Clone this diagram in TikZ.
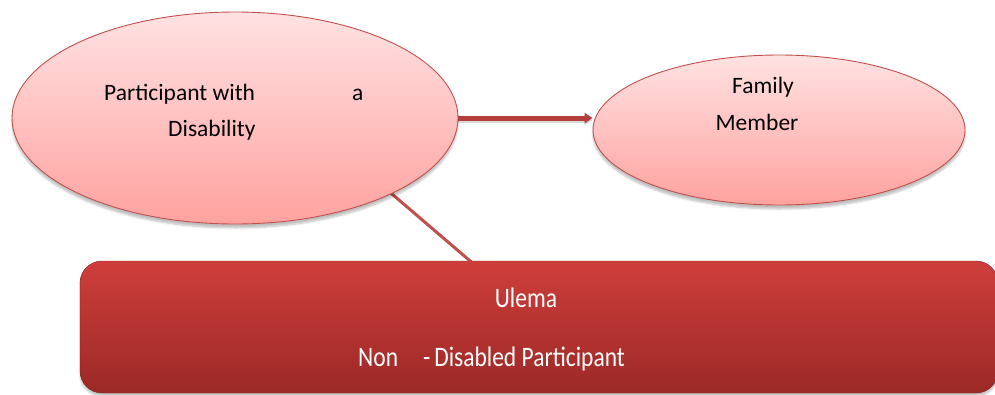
\documentclass[tikz,border=0pt]{standalone}
\usepackage{fontspec}
\usepackage{graphicx}
\setmainfont{Carlito}
\usetikzlibrary{shapes.geometric,arrows.meta,shadows.blur}
\definecolor{edgered}{RGB}{192,80,77}
\definecolor{arrowred}{RGB}{180,62,59}
\definecolor{palepink}{RGB}{255,226,226}
\definecolor{deeppink}{RGB}{255,162,159}
\definecolor{boxtop}{RGB}{206,62,59}
\definecolor{boxbottom}{RGB}{156,41,39}
\tikzset{
  bubble/.style={ellipse, draw=edgered, line width=0.9pt, inner sep=0pt,
    top color=palepink, bottom color=deeppink,
    blur shadow={shadow xshift=0pt, shadow yshift=-4pt, shadow opacity=25, shadow blur steps=6}},
  banner/.style={rectangle, rounded corners=22pt, draw=boxbottom!80!black, line width=0.4pt,
    top color=boxtop, bottom color=boxbottom, inner sep=0pt,
    blur shadow={shadow xshift=0pt, shadow yshift=-3pt, shadow opacity=25, shadow blur steps=5}},
  label/.style={anchor=base west, inner sep=0pt, font=\fontsize{23.5}{28}\selectfont},
  whitelabel/.style={label, text=white},
  link/.style={draw=edgered, line width=3pt},
  flow/.style={draw=arrowred, line width=5pt, -{Triangle[length=8pt,width=10pt]}}
}
\begin{document}
\begin{tikzpicture}[x=1pt,y=-1pt]
  \useasboundingbox (0,0) rectangle (995,394);
  % link from the left bubble down to the banner (drawn first, so both shapes cover its ends)
  \coordinate (pin) at (385,188);
  \coordinate (boxtop) at (476,266);
  \draw[link] (pin) -- (boxtop);
  % lower banner
  \node[banner, minimum width=918pt, minimum height=132pt] (box) at (539,327) {};
  % bubbles
  \node[bubble, minimum width=446pt, minimum height=212pt] (p) at (235,118) {};
  \node[bubble, minimum width=372pt, minimum height=150pt] (f) at (779,130) {};
  % arrow between the two bubbles, with a faint shadow underneath
  \draw[flow, draw=black, opacity=0.15, transform canvas={yshift=-2pt}] (p.east) -- (p.east -| f.west);
  \draw[flow] (p.east) -- (p.east -| f.west);
  % texts
  \node[label] (t1) at (104,100) {Participant with};
  \node[label] (t2) at (352,100) {a};
  \node[label] (t3) at (168,136) {Disability};
  \node[label, anchor=base] (t4) at (763,93) {Family};
  \node[label, anchor=base] (t5) at (757,130) {Member};
  \node[whitelabel, anchor=base] (u1) at (526,307) {\scalebox{1}[1.2]{Ulema}};
  \node[whitelabel] (u2) at (358,366) {\scalebox{1}[1.2]{Non}};
  \node[whitelabel] (u3) at (423,366) {\scalebox{1}[1.2]{-\,Disabled Participant}};
\end{tikzpicture}
\end{document}
